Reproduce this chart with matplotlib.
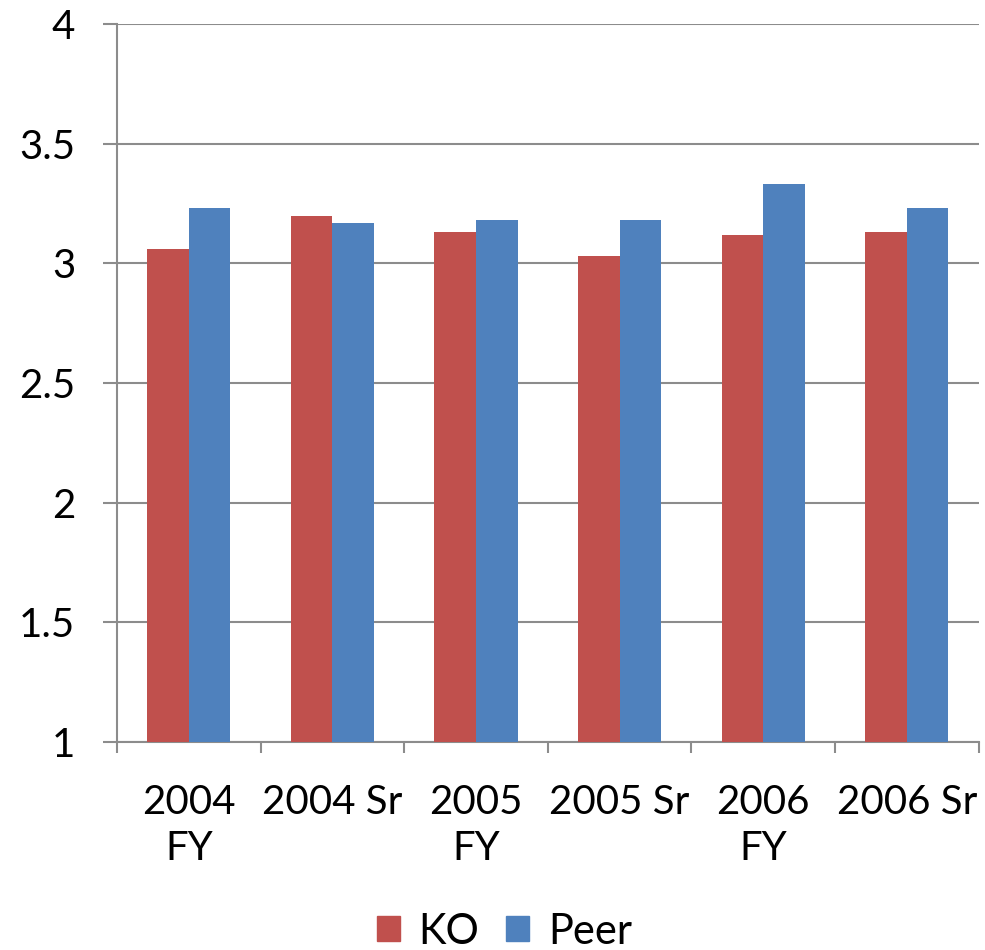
import matplotlib.pyplot as plt
import numpy as np
from matplotlib.patches import Patch

# Survey scores per period
categories = ["2004\nFY", "2004 Sr", "2005\nFY", "2005 Sr", "2006\nFY", "2006 Sr"]
ko_scores = [3.06, 3.20, 3.13, 3.03, 3.12, 3.13]
peer_scores = [3.23, 3.17, 3.18, 3.18, 3.33, 3.23]

ko_color = "#C0504D"
peer_color = "#4F81BD"
line_color = "#8C8C8C"

plt.rcParams["font.family"] = ["Lato", "DejaVu Sans"]

fig = plt.figure(figsize=(9.85, 9.5), dpi=100)
ax = fig.add_axes([0.1188, 0.2189, 0.8747, 0.7558])

x = np.arange(len(categories))
width = 0.29
ax.bar(x - width / 2, [v - 1 for v in ko_scores], width, bottom=1, color=ko_color, zorder=3)
ax.bar(x + width / 2, [v - 1 for v in peer_scores], width, bottom=1, color=peer_color, zorder=3)

ax.set_xlim(-0.5, len(categories) - 0.5)
ax.set_ylim(1, 4)
ax.set_yticks(np.arange(1, 4.01, 0.5))
ax.set_yticklabels(["1", "1.5", "2", "2.5", "3", "3.5", "4"])
ax.yaxis.grid(True, color=line_color, linewidth=1.5, zorder=0)

# category labels at centres, tick marks on the boundaries
ax.set_xticks(x)
ax.set_xticklabels(categories, linespacing=1.3)
ax.set_xticks(np.arange(-0.5, len(categories)), minor=True)
ax.tick_params(axis="x", which="major", length=0, pad=30, labelsize=29)
ax.tick_params(axis="x", which="minor", length=8, width=1.5, color=line_color)
ax.tick_params(axis="y", length=10, width=1.5, color=line_color, pad=20, labelsize=29)

for side in ["top", "right"]:
    ax.spines[side].set_visible(False)
for side in ["left", "bottom"]:
    ax.spines[side].set_color(line_color)
    ax.spines[side].set_linewidth(1.5)

handles = [Patch(color=ko_color, label="KO"), Patch(color=peer_color, label="Peer")]
fig.legend(handles=handles, loc="lower center", bbox_to_anchor=(0.512, -0.04), ncol=2,
           frameon=False, fontsize=30, handlelength=0.55, handleheight=0.55,
           handletextpad=0.45, columnspacing=0.65)

fig.savefig("out.png", dpi=100)
